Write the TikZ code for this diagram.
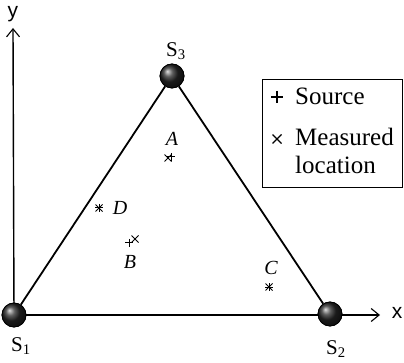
\documentclass[tikz,border=0pt]{standalone}
\usepackage{fontspec}
\setmainfont{Liberation Serif}
\setsansfont{Liberation Sans}
\usetikzlibrary{arrows.meta}
\begin{document}
\begin{tikzpicture}[x=1pt,y=-1pt,font=\fontsize{21}{23}\selectfont,
  sensor/.style={circle,minimum size=24pt,inner sep=0pt,draw=black,line width=0.8pt,shading=ball,ball color=black!85},
  axis/.style={line width=1.4pt,-{Straight Barb[length=8pt,width=13pt,line width=1.1pt]}},
  side/.style={line width=1.8pt},
  plusmark/.pic={\draw[line width=1pt] (-4,0) -- (4,0) (0,-4) -- (0,4);},
  crossmark/.pic={\draw[line width=1pt] (-3.5,-3.5) -- (3.5,3.5) (-3.5,3.5) -- (3.5,-3.5);},
  bigplus/.pic={\draw[line width=1.1pt] (-6,0) -- (6,0) (0,-6) -- (0,6);},
  bigcross/.pic={\draw[line width=1.1pt] (-4.5,-4.5) -- (4.5,4.5) (-4.5,4.5) -- (4.5,-4.5);},
  pt/.style={font=\fontsize{20}{22}\selectfont\itshape,inner sep=0pt},
  legtext/.style={anchor=west,inner sep=0pt,font=\fontsize{25}{27}\selectfont}]
\useasboundingbox (0,0) rectangle (404,363);
% sensors and axes
\coordinate (yend) at (13,28);
\coordinate (xend) at (380,315);
\node[sensor] (s1) at (14,315) {};
\node[sensor] (s2) at (330,314) {};
\node[sensor] (s3) at (172,76) {};
\draw[axis] (s1.center) -- (yend);
\draw[axis] (s1.center) -- (xend);
\draw[side] (s1) -- (s3) -- (s2);
\node[sensor] at (s1) {};
\node[sensor] at (s2) {};
\node[sensor] at (s3) {};
\node[font=\sffamily\fontsize{21}{23}\selectfont] (ylab) at (13,14) {y};
\node[font=\sffamily\fontsize{21}{23}\selectfont] (xlab) at (397,313) {x};
\node (s1lab) at (21,346) {S\textsubscript{1}};
\node (s2lab) at (336,349) {S\textsubscript{2}};
\node (s3lab) at (176,51) {S\textsubscript{3}};
% sources and measured locations
\foreach \px/\py/\mx/\my in {171/157/168/158, 129/243/135/239, 269/287/269/287, 99/208/99/208}{
  \pic at (\px,\py) {plusmark};
  \pic at (\mx,\my) {crossmark};}
\node[pt] (alab) at (172,139) {A};
\node[pt] (blab) at (130,262) {B};
\node[pt] (clab) at (271,268) {C};
\node[pt] (dlab) at (120,208) {D};
% legend
\node[draw,line width=1pt,minimum width=140pt,minimum height=108pt] (legend) at (332,134) {};
\pic at (277,97) {bigplus};
\pic at (277,139) {bigcross};
\node[legtext] (srclab) at (295,96) {Source};
\node[legtext] (measlab) at (295,137) {Measured};
\node[legtext] (loclab) at (295,165) {location};
\end{tikzpicture}
\end{document}
